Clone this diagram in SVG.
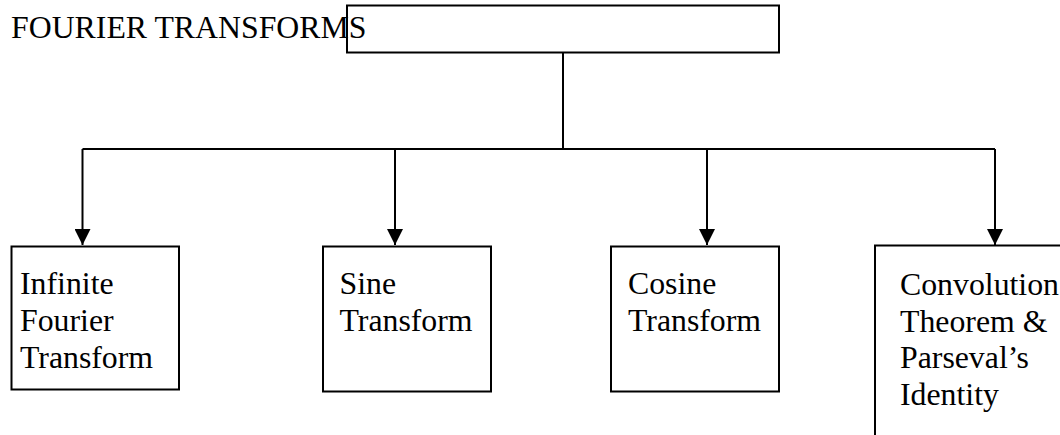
<svg xmlns="http://www.w3.org/2000/svg" width="1060" height="435" viewBox="0 0 1060 435">
  <style>
    .box { fill: #fff; stroke: #000; stroke-width: 2; }
    .wire { fill: none; stroke: #000; stroke-width: 2; }
    .label { font-family: "Liberation Serif", "Times New Roman", serif; font-size: 31.8px; fill: #000; }
  </style>
  <defs>
    <marker id="arrow" viewBox="0 0 16 16" refX="16" refY="8" markerWidth="16" markerHeight="16" markerUnits="userSpaceOnUse" orient="auto">
      <path d="M0,0 L16,8 L0,16 z" fill="#000"/>
    </marker>
  </defs>

  <rect width="1060" height="435" fill="#fff"/>

  <!-- title text; the root box outline is drawn over it -->
  <text class="label" x="11" y="38">FOURIER TRANSFORMS</text>

  <g id="root">
    <rect class="box" x="347" y="5.5" width="432" height="47" style="fill:none"/>
  </g>

  <g id="connectors">
    <path class="wire" d="M563,52.5 V149"/>
    <path class="wire" d="M82.5,149 H995"/>
    <path class="wire" d="M82.5,149 V245" marker-end="url(#arrow)"/>
    <path class="wire" d="M395,149 V245" marker-end="url(#arrow)"/>
    <path class="wire" d="M707,149 V245" marker-end="url(#arrow)"/>
    <path class="wire" d="M995,149 V245" marker-end="url(#arrow)"/>
  </g>

  <g id="infinite">
    <rect class="box" x="11.5" y="246.5" width="167.5" height="143"/>
    <text class="label"><tspan x="20" y="294">Infinite</tspan><tspan x="20" y="331">Fourier</tspan><tspan x="20" y="368">Transform</tspan></text>
  </g>

  <g id="sine">
    <rect class="box" x="323" y="246.5" width="168" height="145"/>
    <text class="label"><tspan x="339.5" y="294">Sine</tspan><tspan x="339.5" y="331">Transform</tspan></text>
  </g>

  <g id="cosine">
    <rect class="box" x="611" y="246.5" width="168" height="145"/>
    <text class="label"><tspan x="628" y="294">Cosine</tspan><tspan x="628" y="331">Transform</tspan></text>
  </g>

  <g id="convolution">
    <!-- runs past the right and bottom edges of the canvas -->
    <rect class="box" x="875" y="245.5" width="220" height="220"/>
    <text class="label"><tspan x="900" y="295">Convolution</tspan><tspan x="900" y="331.5">Theorem &amp;</tspan><tspan x="900" y="368">Parseval’s</tspan><tspan x="900" y="405">Identity</tspan></text>
  </g>
</svg>
